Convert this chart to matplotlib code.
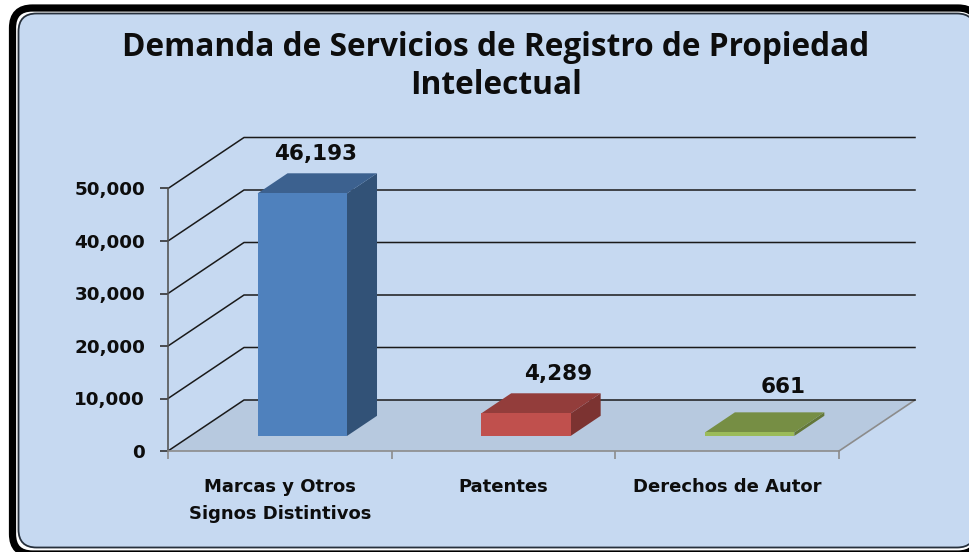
import matplotlib
matplotlib.use("Agg")
import matplotlib.pyplot as plt
from matplotlib.patches import FancyBboxPatch, Polygon

categories = ["Marcas y Otros\nSignos Distintivos", "Patentes", "Derechos de Autor"]
values = [46193, 4289, 661]
value_labels = ["46,193", "4,289", "661"]
y_ticks = [0, 10000, 20000, 30000, 40000, 50000]
title_lines = ["Demanda de Servicios de Registro de Propiedad", "Intelectual"]

W, H = 969, 552
plt.rcParams['font.family'] = ['DejaVu Sans']
fig = plt.figure(figsize=(W / 100, H / 100), dpi=100, facecolor='white')

# full-figure layer for the chart frame (pixel coordinates)
bg = fig.add_axes([0, 0, 1, 1], zorder=0)
bg.set_xlim(0, W); bg.set_ylim(H, 0); bg.axis('off')
bg.add_patch(FancyBboxPatch((12.5, 8), 965.5, 546, boxstyle="round,pad=0,rounding_size=20",
             fc='white', ec='black', lw=5.2, clip_on=False))
bg.add_patch(FancyBboxPatch((18.5, 13.5), 956.5, 534, boxstyle="round,pad=0,rounding_size=18",
             fc='#C6D9F1', ec='#26303c', lw=1.3, clip_on=False))

# data axes: front plane of the 3D box
left, right, y0, y50 = 168, 839, 451, 188.5
ax = fig.add_axes([left / W, 1 - y0 / H, (right - left) / W, (y0 - y50) / H], zorder=1)
ax.set_xlim(0, 3); ax.set_ylim(0, 50000)
ax.patch.set_alpha(0)
ux = 3 / (right - left)       # categories per pixel
uy = 50000 / (y0 - y50)       # value per pixel
DX, DY = 76 * ux, 51 * uy     # total depth of the box


def pr(x, v, d=0.0):
    """Oblique projection: d = 0 front plane, d = 1 back wall."""
    return (x + d * DX, v + d * DY)


def poly(pts, **kw):
    ax.add_patch(Polygon(pts, closed=True, clip_on=False, **kw))


# floor
poly([pr(0, 0), pr(3, 0), pr(3, 0, 1), pr(0, 0, 1)], fc='#B7C9DF', ec='none', zorder=1)
ax.plot(*zip(pr(3, 0), pr(3, 0, 1)), color='#8c8c8c', lw=1.2, clip_on=False, zorder=2)

# gridlines: wall + side wall
for t in y_ticks:
    xs, ys = zip(pr(0, t), pr(0, t, 1), pr(3, t, 1))
    ax.plot(xs, ys, color='#1a1a1a', lw=1.1, clip_on=False, zorder=2)

# bars
colors = [('#4F81BD', '#3C618F', '#325277'),
          ('#C0504D', '#933D3B', '#7C3331'),
          ('#9BBB59', '#768E44', '#637739')]
label_shift = [(13, 39), (32, 39), (34, 45)]   # pixels from the centre of the bar's front top edge
bar_w = 0.4
d_a, d_b = 0.295, 0.69
for i, (v, lab, (cf, ct, cs)) in enumerate(zip(values, value_labels, colors)):
    x0, x1 = i + 0.5 - bar_w / 2, i + 0.5 + bar_w / 2
    poly([pr(x1, 0, d_a), pr(x1, 0, d_b), pr(x1, v, d_b), pr(x1, v, d_a)], fc=cs, ec='none', zorder=3)
    poly([pr(x0, v, d_a), pr(x1, v, d_a), pr(x1, v, d_b), pr(x0, v, d_b)], fc=ct, ec='none', zorder=3)
    poly([pr(x0, 0, d_a), pr(x1, 0, d_a), pr(x1, v, d_a), pr(x0, v, d_a)], fc=cf, ec='none', zorder=4)
    ax.annotate(lab, pr(i + 0.5, v, d_a), xytext=label_shift[i], textcoords='offset pixels',
                ha='center', va='center', fontsize=15.5, fontweight='bold', color='#0d0d0d',
                annotation_clip=False, zorder=5)

# axes
for s in ('top', 'right'):
    ax.spines[s].set_visible(False)
ax.spines['left'].set_color('#555555'); ax.spines['left'].set_linewidth(1.2)
ax.spines['bottom'].set_color('#8c8c8c'); ax.spines['bottom'].set_linewidth(1.2)
ax.set_yticks(y_ticks)
ax.set_yticklabels([f"{t:,}" for t in y_ticks], fontsize=13.2, fontweight='bold', color='#0d0d0d')
ax.tick_params(axis='y', length=6, width=1.2, color='#333333', pad=10.5)
ax.set_xticks([0, 1, 2, 3])
ax.set_xticklabels([])
ax.tick_params(axis='x', length=6, width=1.2, color='#8c8c8c')
ax.set_xticks([0.5, 1.5, 2.5], labels=categories, minor=True, fontsize=13, fontweight='bold', color='#0d0d0d')
ax.tick_params(axis='x', which='minor', length=0, pad=19.5)
for lbl in ax.get_xticklabels(minor=True):
    lbl.set_linespacing(1.65)

for line, ypx in zip(title_lines, (47, 86)):
    fig.text(496 / W, 1 - ypx / H, line, ha='center', va='center', fontsize=22.8, fontweight='bold',
             family='Open Sans', color='#0d0d0d', zorder=5)

fig.savefig('out.png', dpi=100, facecolor='white')
